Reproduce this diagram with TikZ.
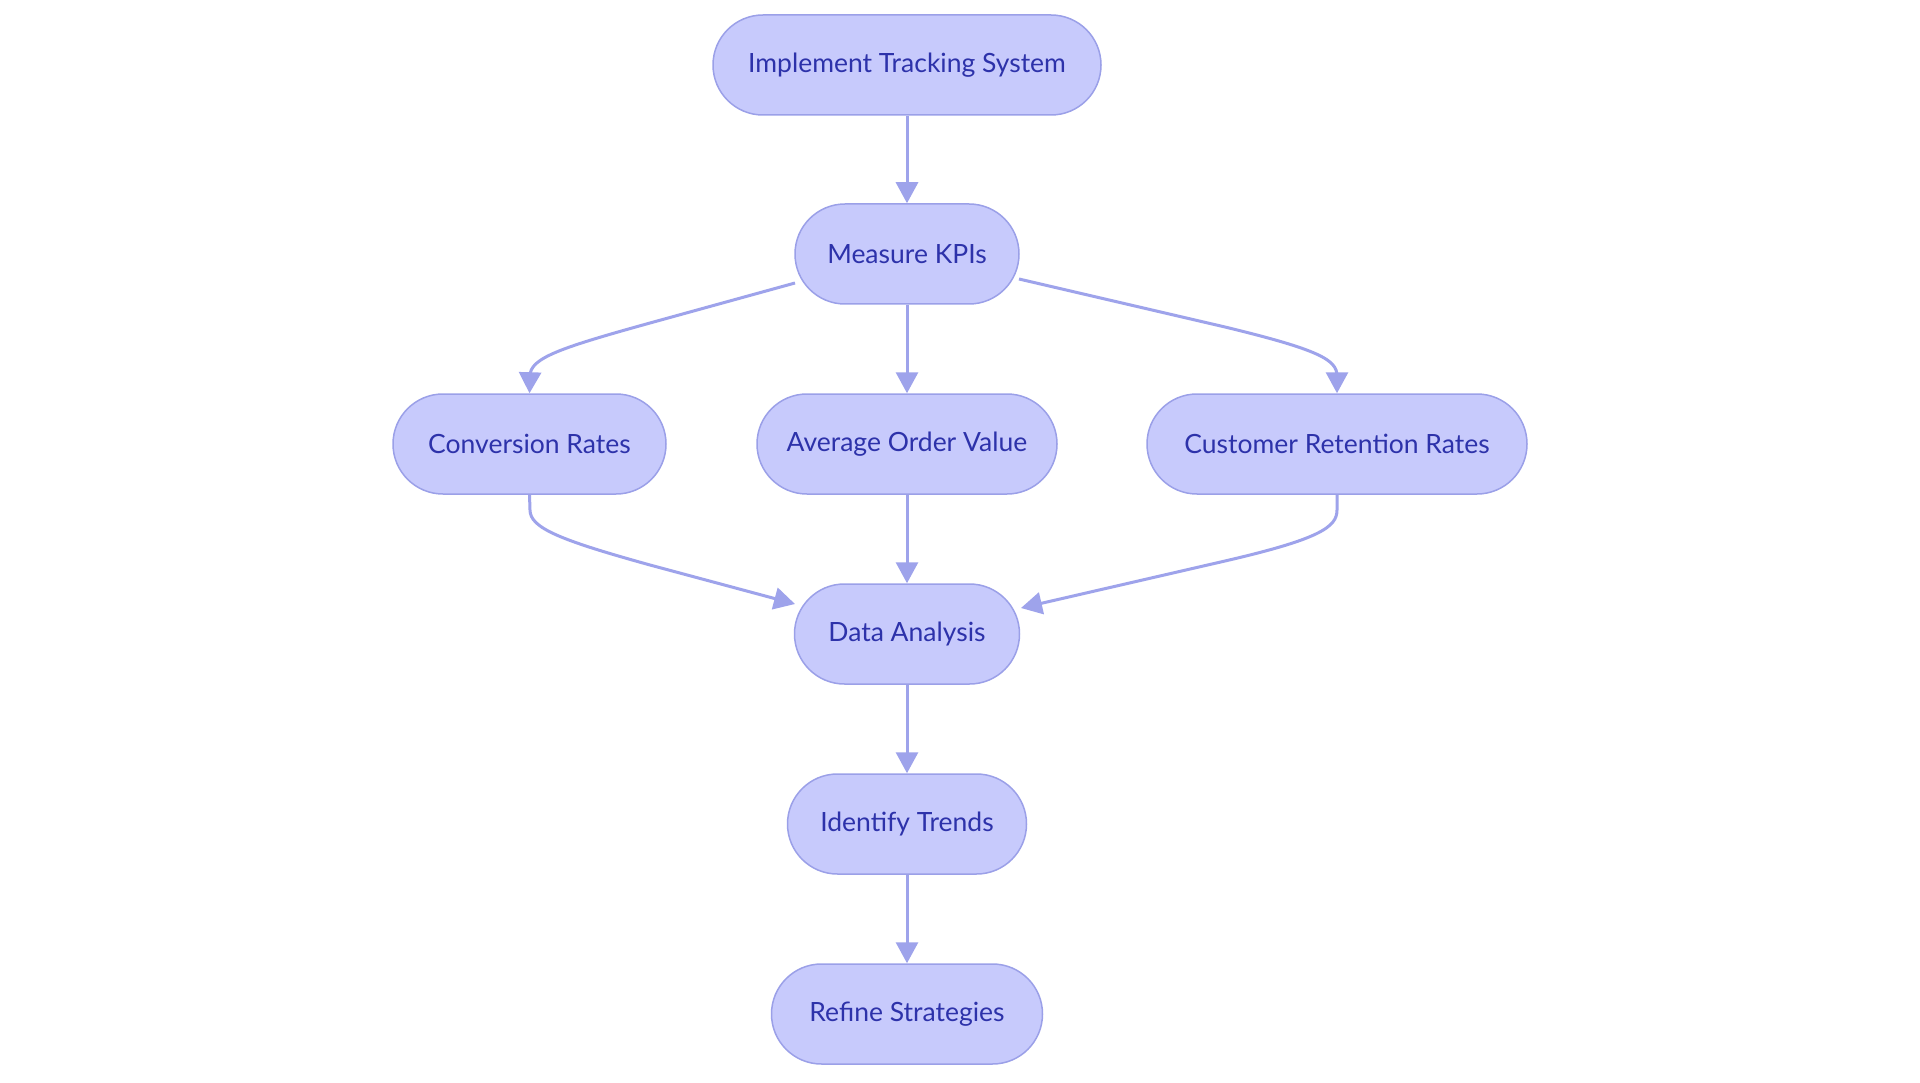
\documentclass[tikz,border=0pt]{standalone}
\usepackage{fontspec}
\setmainfont{Lato}
\usetikzlibrary{arrows.meta}
\definecolor{nodefill}{RGB}{199,202,252}
\definecolor{nodeline}{RGB}{155,160,232}
\definecolor{nodetext}{RGB}{45,50,170}
\definecolor{edgecol}{RGB}{158,163,235}
\tikzset{
  pill/.style={draw=nodeline, line width=1.5pt, fill=nodefill, rounded corners=50pt,
    minimum height=100pt, inner sep=0pt, text=nodetext, font=\fontsize{26.5}{30}\selectfont},
  flow/.style={draw=edgecol, line width=3pt, -{Triangle[length=21pt,width=22pt]}}
}
\begin{document}
\begin{tikzpicture}[x=1pt,y=-1pt]
\useasboundingbox[fill=white] (0,0) rectangle (1920,1083);
\node[pill, minimum width=388pt] (A) at (907,65) {Implement Tracking System};
\node[pill, minimum width=224pt] (B) at (907,254) {Measure KPIs};
\node[pill, minimum width=273pt] (C) at (529.5,444) {Conversion Rates};
\node[pill, minimum width=300pt] (D) at (907,444) {Average Order Value};
\node[pill, minimum width=380pt] (E) at (1337,444) {Customer Retention Rates};
\node[pill, minimum width=225pt] (F) at (907,634) {Data Analysis};
\node[pill, minimum width=239pt] (G) at (907,824) {Identify Trends};
\node[pill, minimum width=271pt] (H) at (907,1014) {Refine Strategies};
\coordinate (bl) at (795,283);
\coordinate (br) at (1019,279);
\coordinate (fl) at (795,604);
\coordinate (fr) at (1021,608);
\draw[flow] (A) -- (B);
\draw[flow] (B) -- (D);
\draw[flow] (D) -- (F);
\draw[flow] (F) -- (G);
\draw[flow] (G) -- (H);
\draw[flow] (bl) -- (650,323) .. controls (560,348) and (530,358) .. (530,376) -- (C.north);
\draw[flow] (br) -- (1225,327) .. controls (1320,350) and (1337,360) .. (1337,376) -- (E.north);
\draw[flow] (C.south) -- (530,510) .. controls (530,528) and (560,540) .. (650,565) -- (fl);
\draw[flow] (E.south) -- (1337,510) .. controls (1337,527) and (1320,539) .. (1225,561) -- (fr);
\end{tikzpicture}
\end{document}
